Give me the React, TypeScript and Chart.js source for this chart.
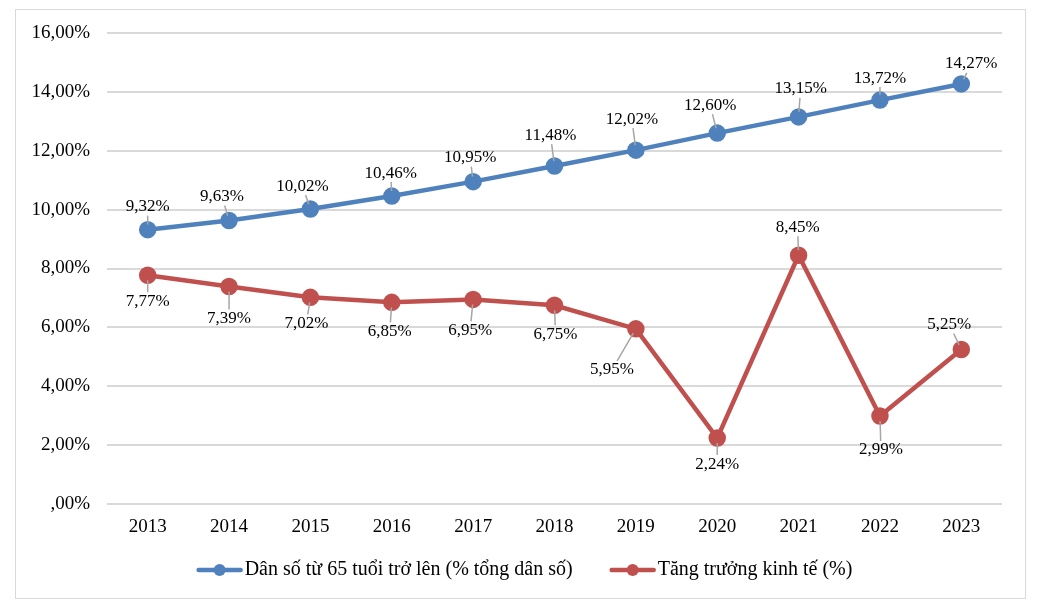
import React, { useEffect, useRef } from "react";
import { Chart, registerables } from "chart.js";

Chart.register(...registerables);

const years = ["2013", "2014", "2015", "2016", "2017", "2018", "2019", "2020", "2021", "2022", "2023"];
const elderlyShare = [9.32, 9.63, 10.02, 10.46, 10.95, 11.48, 12.02, 12.6, 13.15, 13.72, 14.27];
const gdpGrowth = [7.77, 7.39, 7.02, 6.85, 6.95, 6.75, 5.95, 2.24, 8.45, 2.99, 5.25];
const seriesNames = ["Dân số từ 65 tuổi trở lên (% tổng dân số)", "Tăng trưởng kinh tế (%)"];

// label placement (pixels, relative to the point) - styling only
const blueLabelOffsets: [number, number][] = [
  [0, -23], [-7, -24], [-8, -23], [-1, -23], [-3, -24], [-4, -31], [-4, -31], [-7, -28], [2, -28], [0, -22], [10, -20],
];
const redLabelOffsets: [number, number][] = [
  [0, 26], [0, 32], [-4, 26], [-2, 29], [-3, 31], [1, 29], [-24, 41], [0, 26], [-1, -28], [1, 34], [-12, -25],
];

const FONT = "'Liberation Serif', 'Times New Roman', serif";
const BLUE = "#4f81bd";
const RED = "#c0504d";

const fmt = (v: number) => {
  const s = v.toFixed(2).replace(".", ",");
  return (s.startsWith("0,") ? s.slice(1) : s) + "%";
};

const labelPlugin = {
  id: "leaderLabels",
  afterDatasetsDraw(chart: any) {
    const ctx = chart.ctx;
    const offsetsAll = [blueLabelOffsets, redLabelOffsets];
    ctx.save();
    ctx.font = `17px ${FONT}`;
    ctx.textAlign = "center";
    ctx.textBaseline = "middle";
    chart.data.datasets.forEach((ds: any, di: number) => {
      const meta = chart.getDatasetMeta(di);
      meta.data.forEach((pt: any, i: number) => {
        const [dx, dy] = offsetsAll[di][i];
        const px = pt.x;
        const py = pt.y;
        const lx = px + dx;
        const ly = py + dy;
        const text = fmt(ds.data[i]);
        const w = ctx.measureText(text).width / 2 + 2;
        const h = 9;
        const vx = px - lx;
        const vy = py - ly;
        const tExit = Math.min(vy !== 0 ? h / Math.abs(vy) : Infinity, vx !== 0 ? w / Math.abs(vx) : Infinity);
        const ex = lx + vx * tExit;
        const ey = ly + vy * tExit;
        const len = Math.hypot(vx, vy);
        const sx = px - (vx / len) * 5;
        const sy = py - (vy / len) * 5;
        if (Math.hypot(sx - ex, sy - ey) > 3 && tExit < 1) {
          ctx.strokeStyle = "#a6a6a6";
          ctx.lineWidth = 1.5;
          ctx.beginPath();
          ctx.moveTo(sx, sy);
          ctx.lineTo(ex, ey);
          ctx.stroke();
        }
        ctx.fillStyle = "#000";
        ctx.fillText(text, lx, ly);
      });
    });
    ctx.restore();
  },
};

const legendPlugin = {
  id: "bottomLegend",
  afterDraw(chart: any) {
    const ctx = chart.ctx;
    const datasets = chart.data.datasets;
    ctx.save();
    ctx.font = `20px ${FONT}`;
    ctx.textBaseline = "middle";
    ctx.textAlign = "left";
    const iconW = 46;
    const gap = 2;
    const spacing = 37;
    const widths = datasets.map((ds: any) => iconW + gap + ctx.measureText(ds.label).width);
    const total = widths.reduce((a: number, b: number) => a + b, 0) + spacing * (datasets.length - 1);
    let x = (chart.width - total) / 2 + 4;
    const y = chart.height - 28;
    datasets.forEach((ds: any, i: number) => {
      ctx.strokeStyle = ds.borderColor;
      ctx.lineWidth = 4.5;
      ctx.lineCap = "round";
      ctx.beginPath();
      ctx.moveTo(x + 2, y);
      ctx.lineTo(x + iconW - 2, y);
      ctx.stroke();
      ctx.fillStyle = ds.borderColor;
      ctx.beginPath();
      ctx.arc(x + iconW / 2, y, 6, 0, Math.PI * 2);
      ctx.fill();
      ctx.fillStyle = "#000";
      ctx.fillText(ds.label, x + iconW + gap, y);
      x += widths[i] + spacing;
    });
    ctx.restore();
  },
};

export default function App() {
  const ref = useRef<HTMLCanvasElement>(null);
  useEffect(() => {
    const chart = new Chart(ref.current!, {
      type: "line",
      data: {
        labels: years,
        datasets: [
          {
            label: seriesNames[0],
            data: elderlyShare,
            borderColor: BLUE,
            backgroundColor: BLUE,
            borderWidth: 4.5,
            pointRadius: 6.5,
            pointBackgroundColor: BLUE,
            pointBorderColor: BLUE,
            tension: 0,
          },
          {
            label: seriesNames[1],
            data: gdpGrowth,
            borderColor: RED,
            backgroundColor: RED,
            borderWidth: 4.5,
            pointRadius: 6.5,
            pointBackgroundColor: RED,
            pointBorderColor: RED,
            tension: 0,
          },
        ],
      },
      options: {
        animation: false,
        responsive: true,
        maintainAspectRatio: false,
        layout: { padding: { left: 0, right: 23, top: 23, bottom: 0 } },
        plugins: {
          tooltip: { enabled: false },
          legend: { display: false },
        },
        scales: {
          x: {
            offset: true,
            grid: { display: false },
            border: { display: false },
            ticks: { font: { family: FONT, size: 19 }, color: "#000", padding: 4 },
            afterFit: (s: any) => {
              s.height = 94;
              s.paddingLeft = 0;
              s.paddingRight = 0;
            },
          },
          y: {
            min: 0,
            max: 16,
            ticks: {
              stepSize: 2,
              font: { family: FONT, size: 19 },
              color: "#000",
              padding: 17,
              callback: (v: any) => fmt(Number(v)),
            },
            grid: { color: "#d9d9d9", lineWidth: 2, drawTicks: false },
            border: { display: false },
            afterFit: (s: any) => {
              s.width = 91;
              s.paddingTop = 0;
              s.paddingBottom = 0;
            },
          },
        },
      },
      plugins: [labelPlugin, legendPlugin],
    });
    return () => chart.destroy();
  }, []);
  return (
    <div
      style={{
        position: "absolute",
        left: 15,
        top: 9,
        width: 1011,
        height: 590,
        border: "1px solid #d9d9d9",
        boxSizing: "border-box",
        background: "#fff",
      }}
    >
      <canvas ref={ref} />
    </div>
  );
}
